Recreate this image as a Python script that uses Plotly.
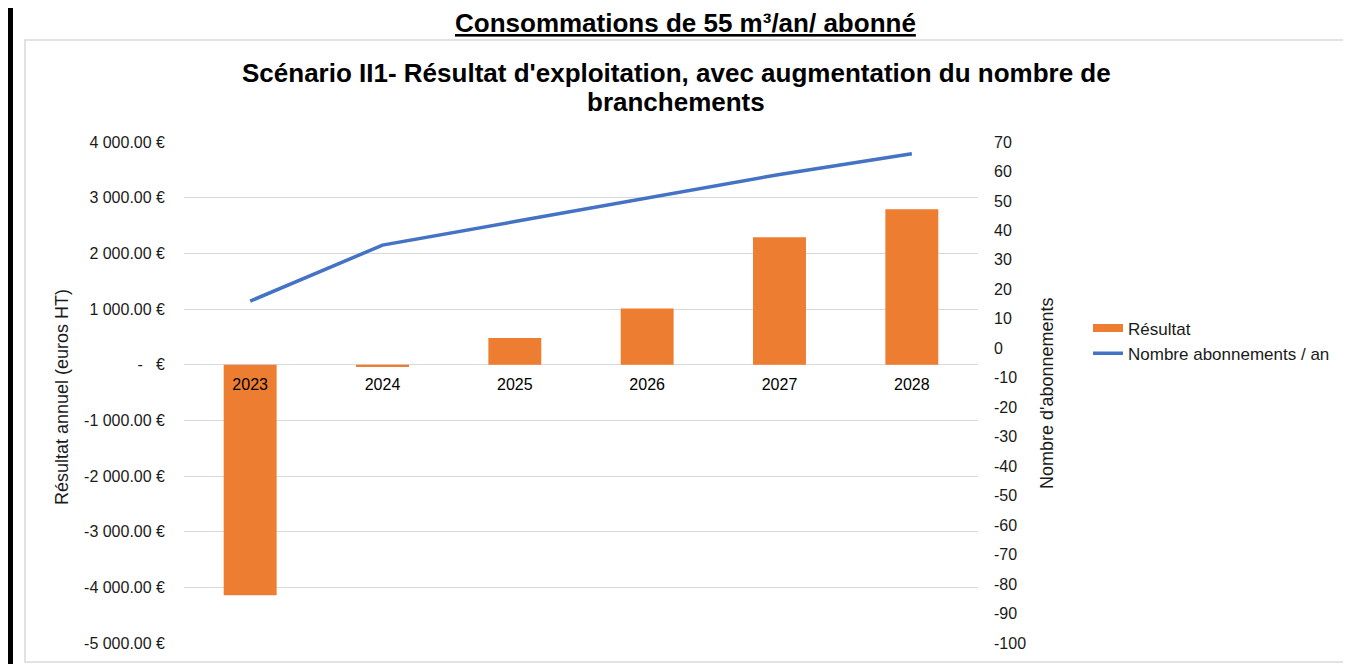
import plotly.graph_objects as go

years = ["2023", "2024", "2025", "2026", "2027", "2028"]
resultat = [-4140, -40, 480, 1010, 2290, 2790]
abonnements = [16, 35, 43, 51, 59, 66]

left_ticks = [4000, 3000, 2000, 1000, 0, -1000, -2000, -3000, -4000, -5000]
left_text = ["4\u00a0000.00\u00a0€", "3\u00a0000.00\u00a0€", "2\u00a0000.00\u00a0€", "1\u00a0000.00\u00a0€",
             "-\u00a0\u00a0\u00a0€", "-1\u00a0000.00\u00a0€", "-2\u00a0000.00\u00a0€", "-3\u00a0000.00\u00a0€",
             "-4\u00a0000.00\u00a0€", "-5\u00a0000.00\u00a0€"]
right_ticks = [70, 60, 50, 40, 30, 20, 10, 0, -10, -20, -30, -40, -50, -60, -70, -80, -90, -100]
right_text = [str(v) for v in right_ticks]  # plain hyphen minus like the reference

# page body has an 8px margin: figure is drawn at (8, 8)
OFF = 8
W, H = 1351 - OFF, 664 - OFF


def fx(px):
    return (px - OFF) / W


def fy(py):
    return (H - (py - OFF)) / H


px0, px1 = 184, 978
py_top, py_bot = 142, 643

FONT = "Arial, Liberation Sans, sans-serif"
TXT = "#1a1a1a"

fig = go.Figure()
fig.add_trace(go.Bar(x=years, y=resultat, name="Résultat", marker=dict(color="#ED7D31", line=dict(width=0)),
                     width=0.4, yaxis="y", showlegend=False, legendgroup="res"))
# legend key for the bars drawn as a wide orange bar, like the reference legend
fig.add_trace(go.Scatter(x=[years[0]], y=[None], name="Résultat", mode="lines", legendgroup="res",
                         line=dict(color="#ED7D31", width=8), yaxis="y", hoverinfo="skip"))
fig.add_trace(go.Scatter(x=years, y=abonnements, name="Nombre abonnements / an", mode="lines",
                         line=dict(color="#4472C4", width=3.5), yaxis="y2"))

ydom = [fy(py_bot), fy(py_top)]
zero_paper = ydom[0] + (0 - (-5000)) / 9000 * (ydom[1] - ydom[0])

fig.update_layout(
    width=W, height=H,
    margin=dict(l=0, r=0, t=0, b=0, autoexpand=False),
    paper_bgcolor="white", plot_bgcolor="white",
    font=dict(family=FONT, size=16, color=TXT),
    xaxis=dict(domain=[fx(px0), fx(px1)], anchor="free", position=zero_paper,
               showgrid=False, showline=False, ticks="", zeroline=False,
               tickfont=dict(size=16, color="#000000"), ticklabelstandoff=8),
    yaxis=dict(domain=ydom, range=[-5000, 4000], tickvals=left_ticks, ticktext=left_text,
               showgrid=True, gridcolor="#d9d9d9", gridwidth=1, zeroline=False, showline=False,
               ticks="", ticklabelstandoff=18, tickfont=dict(size=16, color=TXT)),
    yaxis2=dict(overlaying="y", side="right", range=[-100, 70], tickvals=right_ticks, ticktext=right_text,
                showgrid=False, zeroline=False, showline=False, ticks="", ticklabelstandoff=15,
                tickfont=dict(size=16, color=TXT)),
    legend=dict(x=fx(1088), y=fy(341), xanchor="left", yanchor="middle",
                font=dict(size=17, color=TXT), bgcolor="rgba(0,0,0,0)", itemwidth=30,
                tracegroupgap=0),
    showlegend=True,
    shapes=[
        dict(type="rect", xref="paper", yref="paper", x0=fx(25), x1=fx(1353), y0=fy(662), y1=fy(40),
             line=dict(color="#d9d9d9", width=1.5), fillcolor="rgba(0,0,0,0)", layer="below"),
        dict(type="rect", xref="paper", yref="paper", x0=fx(8), x1=fx(13), y0=0, y1=1,
             line=dict(width=0), fillcolor="#000000"),
    ],
    annotations=[
        dict(text="<b><span style='text-decoration:underline'>Consommations de 55 m³/an/ abonné</span></b>",
             xref="paper", yref="paper", x=fx(685), y=fy(23), xanchor="center", yanchor="middle",
             showarrow=False, font=dict(size=26, color="#000000", family=FONT)),
        dict(text="<b>Scénario II1- Résultat d'exploitation, avec augmentation du nombre de</b>",
             xref="paper", yref="paper", x=fx(676), y=fy(73), xanchor="center", yanchor="middle",
             showarrow=False, font=dict(size=26, color="#000000", family=FONT)),
        dict(text="<b>branchements</b>",
             xref="paper", yref="paper", x=fx(676), y=fy(102), xanchor="center", yanchor="middle",
             showarrow=False, font=dict(size=26, color="#000000", family=FONT)),
        dict(text="Résultat annuel (euros HT)", textangle=-90,
             xref="paper", yref="paper", x=fx(62), y=fy(397), xanchor="center", yanchor="middle",
             showarrow=False, font=dict(size=18, color=TXT, family=FONT)),
        dict(text="Nombre d'abonnements", textangle=-90,
             xref="paper", yref="paper", x=fx(1047), y=fy(393), xanchor="center", yanchor="middle",
             showarrow=False, font=dict(size=18, color=TXT, family=FONT)),
    ],
)

fig.write_html("out.html")
